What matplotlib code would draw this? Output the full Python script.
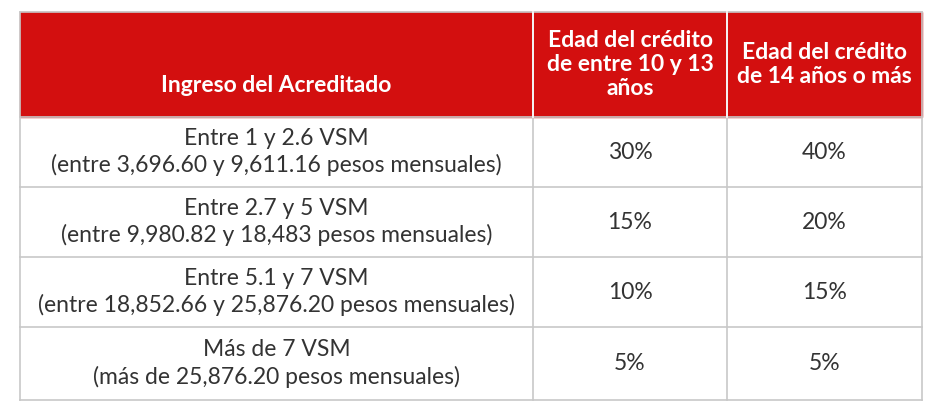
import matplotlib.pyplot as plt
from matplotlib.patches import Rectangle

headers = ["Ingreso del Acreditado",
           "Edad del crédito\nde entre 10 y 13\naños",
           "Edad del crédito\nde 14 años o más"]
ingresos = ["Entre 1 y 2.6 VSM\n(entre 3,696.60 y 9,611.16 pesos mensuales)",
            "Entre 2.7 y 5 VSM\n(entre 9,980.82 y 18,483 pesos mensuales)",
            "Entre 5.1 y 7 VSM\n(entre 18,852.66 y 25,876.20 pesos mensuales)",
            "Más de 7 VSM\n(más de 25,876.20 pesos mensuales)"]
pct_10_13 = ["30%", "15%", "10%", "5%"]
pct_14 = ["40%", "20%", "15%", "5%"]

W, H = 938, 411
fig = plt.figure(figsize=(W / 100, H / 100), dpi=100)
ax = fig.add_axes([0, 0, 1, 1])
ax.set_xlim(0, W)
ax.set_ylim(H, 0)
ax.axis('off')

cols = [20, 533, 727, 922]
rows = [12, 117, 187, 257, 327, 400]
red = '#d30f0f'
line = '#c8c8c8'
font = 'Lato'

ax.add_patch(Rectangle((cols[0], rows[0]), cols[-1] - cols[0], rows[1] - rows[0],
                       color=red, zorder=0))
for j, h in enumerate(headers):
    cx = (cols[j] + cols[j + 1]) / 2
    y = rows[1] - 32 if j == 0 else (rows[0] + rows[1]) / 2
    ax.text(cx, y, h, ha='center', va='center', color='white',
            fontsize=16.5, fontweight='bold', family=font, linespacing=1.2)

for i in range(4):
    cy = (rows[i + 1] + rows[i + 2]) / 2
    vals = [ingresos[i], pct_10_13[i], pct_14[i]]
    for j, v in enumerate(vals):
        cx = (cols[j] + cols[j + 1]) / 2
        ax.text(cx, cy, v, ha='center', va='center', color='#333333',
                fontsize=16.5, family=font, linespacing=1.3)

for y in rows:
    ax.plot([cols[0], cols[-1]], [y, y], color=line, lw=1.2)
for x in cols:
    ax.plot([x, x], [rows[0], rows[-1]], color=line, lw=1.2)
for x in cols[1:-1]:
    ax.plot([x, x], [rows[0], rows[1]], color='white', lw=1.2)

fig.savefig('out.png', dpi=100)
